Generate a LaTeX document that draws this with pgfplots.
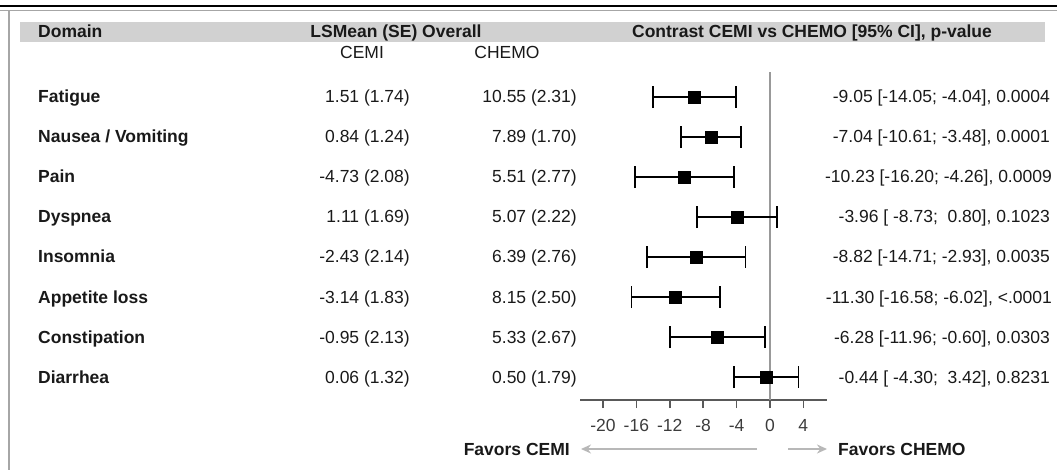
\documentclass[border=0pt]{standalone}
\usepackage{fontspec}
\setmainfont{Liberation Sans}
\usepackage{pgfplots}
\pgfplotsset{compat=1.18}
\usetikzlibrary{arrows.meta}
\definecolor{band}{gray}{0.82}
\definecolor{txt}{gray}{0.1}
\definecolor{refl}{gray}{0.6}
\definecolor{axl}{gray}{0.35}
\definecolor{arr}{gray}{0.72}
\newcommand{\fs}{\fontsize{17.5}{20}\selectfont}
\begin{document}
\begin{tikzpicture}[x=1pt,y=1pt]
\path[use as bounding box] (0,0) rectangle (1057,-470);
\draw[black, line width=2.5pt] (0,-6) -- (1057,-6);
\draw[gray!70, line width=1pt] (0,-10.5) -- (1057,-10.5);
\draw[gray!70, line width=1.5pt] (9,-11) -- (9,-470);
\fill[band] (20,-22) rectangle (1045,-42);
\begin{scope}[every node/.style={font=\fs\bfseries, text=txt, inner sep=0pt}]
\node[anchor=base west] at (38,-38) {Domain};
\node[anchor=base] at (396,-38) {LSMean (SE) Overall};
\node[anchor=base] at (812,-38) {Contrast CEMI vs CHEMO [95\% CI], p-value};
\node[anchor=base west] at (38,-103) {Fatigue};
\node[anchor=base west] at (38,-143) {Nausea / Vomiting};
\node[anchor=base west] at (38,-183) {Pain};
\node[anchor=base west] at (38,-223) {Dyspnea};
\node[anchor=base west] at (38,-263) {Insomnia};
\node[anchor=base west] at (38,-303) {Appetite loss};
\node[anchor=base west] at (38,-343) {Constipation};
\node[anchor=base west] at (38,-383) {Diarrhea};
\node[anchor=base east] at (570,-455) {Favors CEMI};
\node[anchor=base west] at (838,-455) {Favors CHEMO};
\end{scope}
\begin{scope}[every node/.style={font=\fs, text=txt, inner sep=0pt}]
\node[anchor=base] at (362,-59) {CEMI};
\node[anchor=base] at (507,-59) {CHEMO};
% CEMI column
\node[anchor=base east] at (410,-103) {1.51 (1.74)};
\node[anchor=base east] at (410,-143) {0.84 (1.24)};
\node[anchor=base east] at (410,-183) {-4.73 (2.08)};
\node[anchor=base east] at (410,-223) {1.11 (1.69)};
\node[anchor=base east] at (410,-263) {-2.43 (2.14)};
\node[anchor=base east] at (410,-303) {-3.14 (1.83)};
\node[anchor=base east] at (410,-343) {-0.95 (2.13)};
\node[anchor=base east] at (410,-383) {0.06 (1.32)};
% CHEMO column
\node[anchor=base east] at (577,-103) {10.55 (2.31)};
\node[anchor=base east] at (577,-143) {7.89 (1.70)};
\node[anchor=base east] at (577,-183) {5.51 (2.77)};
\node[anchor=base east] at (577,-223) {5.07 (2.22)};
\node[anchor=base east] at (577,-263) {6.39 (2.76)};
\node[anchor=base east] at (577,-303) {8.15 (2.50)};
\node[anchor=base east] at (577,-343) {5.33 (2.67)};
\node[anchor=base east] at (577,-383) {0.50 (1.79)};
% Contrast column
\node[anchor=base east] at (1050,-103) {-9.05 [-14.05; -4.04], 0.0004};
\node[anchor=base east] at (1050,-143) {-7.04 [-10.61; -3.48], 0.0001};
\node[anchor=base east] at (1052,-183) {-10.23 [-16.20; -4.26], 0.0009};
\node[anchor=base east] at (1050,-223) {-3.96 [ -8.73;\ \ 0.80], 0.1023};
\node[anchor=base east] at (1050,-263) {-8.82 [-14.71; -2.93], 0.0035};
\node[anchor=base east] at (1052,-303) {-11.30 [-16.58; -6.02], <.0001};
\node[anchor=base east] at (1050,-343) {-6.28 [-11.96; -0.60], 0.0303};
\node[anchor=base east] at (1050,-383) {-0.44 [ -4.30;\ \ 3.42], 0.8231};
\end{scope}
\draw[arr, line width=2pt, -{Stealth[length=10pt,width=9pt]}] (757,-449) -- (581,-449);
\draw[arr, line width=2pt, -{Stealth[length=10pt,width=9pt]}] (788,-449) -- (827,-449);
\begin{axis}[at={(580pt,-400pt)}, anchor=south west, scale only axis,
  width=246.7pt, height=327pt,
  xmin=-22.75, xmax=6.8, ymin=-8.575, ymax=-0.4,
  axis x line=bottom, axis y line=none,
  axis line style={axl, line width=1.5pt, -},
  xtick={-20,-16,-12,-8,-4,0,4}, ytick=\empty,
  tick align=outside, major tick length=8pt,
  tick style={axl, line width=1.5pt},
  xticklabel style={font=\fs, text=txt!85!white, yshift=-8pt},
  /pgf/number format/assume math mode=true,
  clip=false]
\draw[refl, line width=1.3pt] (axis cs:0,-0.375) -- (axis cs:0,-8.575);
\addplot[black, only marks, mark=square*, mark size=6pt,
  error bars/.cd, x dir=both, x explicit,
  error bar style={black, line width=1.9pt},
  error mark options={black, line width=1.9pt, mark size=11pt, rotate=90}]
  coordinates {
  (-9.05,-1) += (5.01,0) -= (5.00,0)
  (-7.04,-2) += (3.56,0) -= (3.57,0)
  (-10.23,-3) += (5.97,0) -= (5.97,0)
  (-3.96,-4) += (4.76,0) -= (4.77,0)
  (-8.82,-5) += (5.89,0) -= (5.89,0)
  (-11.30,-6) += (5.28,0) -= (5.28,0)
  (-6.28,-7) += (5.68,0) -= (5.68,0)
  (-0.44,-8) += (3.86,0) -= (3.86,0)
  };
\end{axis}
\end{tikzpicture}
\end{document}
